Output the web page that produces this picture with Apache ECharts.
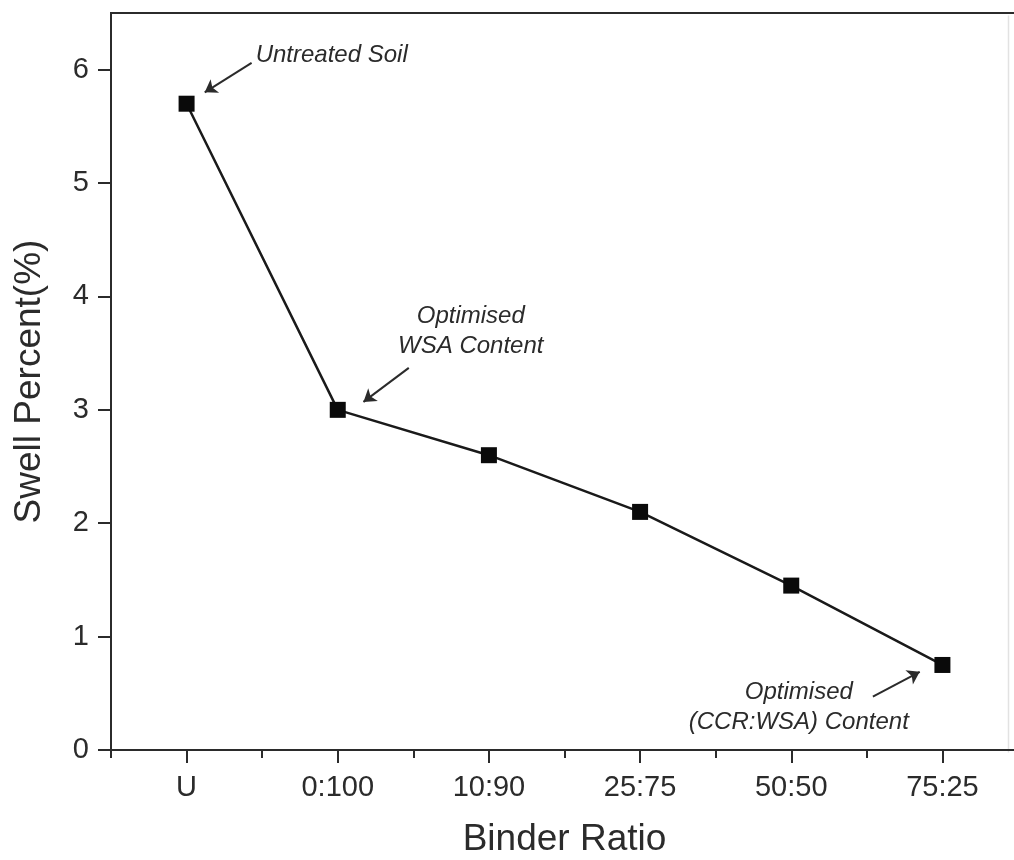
<!DOCTYPE html>
<html>
<head>
<meta charset="utf-8">
<script src="https://cdn.jsdelivr.net/npm/echarts@6/dist/echarts.min.js"></script>
<style>
  html, body { margin: 0; padding: 0; background: #fff; }
  #chart { width: 1014px; height: 860px; }
</style>
</head>
<body>
<div id="chart"></div>
<script>
// Swell percent against binder ratio
const categories = ['U', '0:100', '10:90', '25:75', '50:50', '75:25'];
const swellPercent = [5.7, 3.0, 2.6, 2.1, 1.45, 0.75];
const yTicks = [0, 1, 2, 3, 4, 5, 6];

// Callout texts with their anchor (x index, y value) and arrow from/to points
const notes = [
  { text: 'Untreated Soil', at: [0.96, 6.13], from: [0.43, 6.06], to: [0.12, 5.80] },
  { text: 'Optimised\nWSA Content', at: [1.88, 3.69], from: [1.47, 3.37], to: [1.17, 3.07] },
  { text: 'Optimised\n(CCR:WSA) Content', at: [4.05, 0.38], from: [4.54, 0.47], to: [4.85, 0.69] }
];

const FONT = '"Liberation Sans", Arial, Helvetica, sans-serif';
const INK = '#2b2b2b';

const points = swellPercent.map((v, i) => [i, v]);

const chart = echarts.init(document.getElementById('chart'), null, { renderer: 'canvas' });

chart.setOption({
  animation: false,
  backgroundColor: '#ffffff',
  grid: {
    left: 111, top: 13, width: 907, height: 737,
    outerBoundsMode: 'none', containLabel: false,
    show: true, borderColor: INK, borderWidth: 2, backgroundColor: 'transparent'
  },
  graphic: [
    {
      // faint right-hand frame edge
      type: 'line', left: 1006, top: 13,
      shape: { x1: 0, y1: 0, x2: 0, y2: 737 },
      style: { stroke: '#e2e2e2', lineWidth: 1.5 },
      silent: true
    }
  ],
  xAxis: [
    {
      // numeric axis carrying the series (category i sits at value i)
      type: 'value', min: -0.5, max: 5.5, show: false
    },
    {
      type: 'category', position: 'bottom', data: categories,
      boundaryGap: true,
      name: 'Binder Ratio', nameLocation: 'middle', nameGap: 71,
      nameTextStyle: { fontFamily: FONT, fontSize: 37, color: INK },
      axisLine: { show: true, onZero: false, lineStyle: { color: INK, width: 2 } },
      axisTick: { show: true, alignWithLabel: true, inside: false, length: 13, lineStyle: { color: INK, width: 2 } },
      axisLabel: { show: true, fontFamily: FONT, fontSize: 29, color: INK, margin: 23 },
      splitLine: { show: false }
    },
    {
      // short ticks at the boundaries between categories
      type: 'category', position: 'bottom', data: categories,
      boundaryGap: true,
      axisLine: { show: false, onZero: false },
      axisTick: { show: true, alignWithLabel: false, inside: false, length: 8, lineStyle: { color: INK, width: 2 } },
      axisLabel: { show: false },
      splitLine: { show: false }
    }
  ],
  yAxis: {
    type: 'value', min: 0, max: 6.5,
    name: 'Swell Percent(%)', nameLocation: 'middle', nameGap: 63,
    nameTextStyle: { fontFamily: FONT, fontSize: 37, color: INK },
    axisLine: { show: true, onZero: false, lineStyle: { color: INK, width: 2 } },
    axisTick: { show: true, inside: false, length: 13, customValues: yTicks, lineStyle: { color: INK, width: 2 } },
    axisLabel: { fontFamily: FONT, fontSize: 29, color: INK, margin: 22, customValues: yTicks },
    splitLine: { show: false }
  },
  series: [
    {
      type: 'line',
      xAxisIndex: 0,
      data: points,
      symbol: 'rect',
      symbolSize: 16,
      itemStyle: { color: '#0a0a0a' },
      lineStyle: { color: '#1a1a1a', width: 2.5 },
      emphasis: { disabled: true },
      markPoint: {
        symbol: 'rect', symbolSize: 0, silent: true,
        label: {
          show: true, position: 'inside', align: 'center', verticalAlign: 'middle',
          fontFamily: FONT, fontStyle: 'italic', fontSize: 24, lineHeight: 30, color: INK
        },
        data: notes.map(n => ({ coord: n.at, value: n.text, label: { formatter: n.text } }))
      },
      markLine: {
        silent: true,
        symbol: ['none', 'arrow'],
        symbolSize: 12,
        label: { show: false },
        lineStyle: { color: INK, width: 2, type: 'solid' },
        itemStyle: { color: INK },
        emphasis: { disabled: true },
        data: notes.map(n => [
          { coord: n.from, symbol: 'none' },
          { coord: n.to, symbol: 'arrow', symbolSize: 12 }
        ])
      }
    }
  ]
});
</script>
</body>
</html>
